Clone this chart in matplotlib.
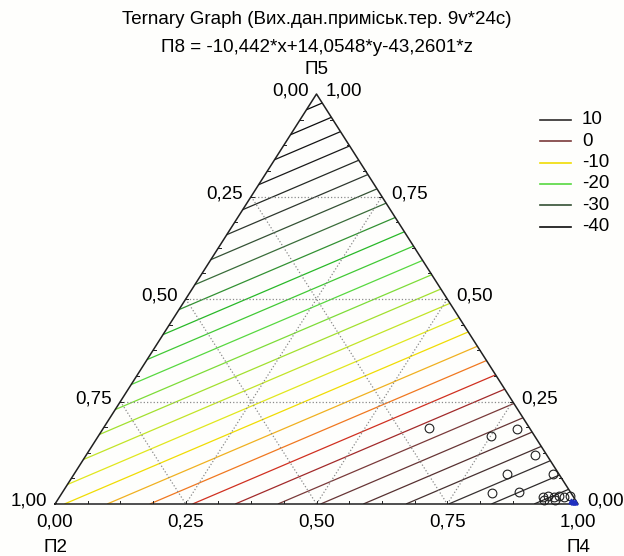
import numpy as np
import matplotlib
matplotlib.use("Agg")
import matplotlib.pyplot as plt
import matplotlib.tri as mtri
from matplotlib.colors import LinearSegmentedColormap
from matplotlib.lines import Line2D

plt.rcParams['font.family'] = ['Liberation Sans', 'DejaVu Sans']

# model from the title: П8 = a*П2 + b*П4 + c*П5
coef_p2 = -10.442
coef_p4 = 14.0548
coef_p5 = -43.2601
levels = np.arange(-44, 16, 2)
legend_levels = [10, 0, -10, -20, -30, -40]

# observed points (П4, П5 fractions)
pts_p4 = [0.622, 0.751, 0.792, 0.858, 0.828, 0.916, 0.822, 0.873,
          0.925, 0.934, 0.945, 0.955, 0.965, 0.976, 0.930, 0.951]
pts_p5 = [0.185, 0.166, 0.183, 0.120, 0.073, 0.073, 0.027, 0.029,
          0.017, 0.019, 0.017, 0.019, 0.017, 0.019, 0.010, 0.010]
blue_p4 = [0.982, 0.988, 0.993]
blue_p5 = [0.008, 0.006, 0.004]

tick_vals = [0.0, 0.25, 0.5, 0.75, 1.0]
tick_text = ['0,00', '0,25', '0,50', '0,75', '1,00']

cmap = LinearSegmentedColormap.from_list('stat', [
    (0.00, '#000000'), (0.14, '#1a1a1a'), (0.21, '#303a30'),
    (0.28, '#3a703a'), (0.345, '#28b828'), (0.41, '#55d840'),
    (0.48, '#a0e030'), (0.55, '#e0e820'), (0.585, '#f0e000'),
    (0.62, '#f0b020'), (0.655, '#f07820'), (0.69, '#d03020'),
    (0.72, '#a82828'), (0.76, '#7a3a3a'), (0.83, '#553030'),
    (0.90, '#353030'), (1.00, '#202020')])
vmin, vmax = -44, 14


def xy(p4, p5):
    p4 = np.asarray(p4, float)
    p5 = np.asarray(p5, float)
    return p4 + p5 / 2, p5


W, H = 624, 556
fig = plt.figure(figsize=(W / 100, H / 100), dpi=100, facecolor='#fefefc')
ax = fig.add_axes([55 / W, (H - 504) / H, 523 / W, 410 / H])
ax.set_xlim(0, 1)
ax.set_ylim(0, 1)
ax.axis('off')

# contours on a ternary lattice
n = 60
P4, P5 = [], []
for i in range(n + 1):
    for j in range(n + 1 - i):
        P4.append(i / n)
        P5.append(j / n)
P4 = np.array(P4)
P5 = np.array(P5)
P2 = 1 - P4 - P5
X, Y = xy(P4, P5)
Z = coef_p2 * P2 + coef_p4 * P4 + coef_p5 * P5
tri = mtri.Triangulation(X, Y)
cols = [cmap((l - vmin) / (vmax - vmin)) for l in levels]
ax.tricontour(tri, Z, levels=levels, colors=cols, linewidths=0.9)

# dotted grid
for v in [0.25, 0.5, 0.75]:
    gx, gy = xy([0, 1 - v], [v, v])          # const П5
    ax.plot(gx, gy, ls=':', color='#8a8a8a', lw=0.9)
    gx, gy = xy([v, v], [0, 1 - v])          # const П4
    ax.plot(gx, gy, ls=':', color='#8a8a8a', lw=0.9)
    gx, gy = xy([0, 1 - v], [1 - v, 0])      # const П2
    ax.plot(gx, gy, ls=':', color='#8a8a8a', lw=0.9)

# triangle frame
fx, fy = xy([0, 1, 0, 0], [0, 0, 1, 0])
ax.plot(fx, fy, color='#202020', lw=1.1, clip_on=False)

# small inward ticks
for k in range(1, 16):
    t = k / 16
    bx, by = xy([t], [0])
    ax.plot([bx[0], bx[0]], [0, 0.008], color='#202020', lw=0.7)
    lx, ly = xy([0], [t])
    ax.plot([lx[0], lx[0] + 0.005], [ly[0], ly[0]], color='#202020', lw=0.7)
    rx, ry = xy([1 - t], [t])
    ax.plot([rx[0], rx[0] - 0.005], [ry[0], ry[0]], color='#202020', lw=0.7)

# data points
px, py = xy(pts_p4, pts_p5)
ax.plot(px, py, 'o', mfc='none', mec='#202020', ms=6.3, mew=0.8, clip_on=False)
bx, by = xy(blue_p4, blue_p5)
ax.plot(bx, by, '^', color='#2030c0', ms=3.5, clip_on=False)

fs = 13.5
# bottom labels (П4)
for v, s in zip(tick_vals, tick_text):
    x0, y0 = xy([v], [0])
    ax.annotate(s, (x0[0], y0[0]), xytext=(0, -18), textcoords='offset pixels',
                ha='center', va='center', fontsize=fs, annotation_clip=False)
# left labels (П2) and right labels (П5)
for k, v in enumerate(tick_vals):
    x0, y0 = xy([0], [v])
    ax.annotate(tick_text[4 - k], (x0[0], y0[0]),
                xytext=(-8, 3), textcoords='offset pixels',
                ha='right', va='center', fontsize=fs, annotation_clip=False)
    x1, y1 = xy([1 - v], [v])
    ax.annotate(tick_text[k], (x1[0], y1[0]), xytext=(9, 3), textcoords='offset pixels',
                ha='left', va='center', fontsize=fs, annotation_clip=False)

ax.annotate('П2', (0, 0), xytext=(0, -44), textcoords='offset pixels',
            ha='center', va='center', fontsize=fs, annotation_clip=False)
ax.annotate('П4', (1, 0), xytext=(0, -44), textcoords='offset pixels',
            ha='center', va='center', fontsize=fs, annotation_clip=False)
ax.annotate('П5', (0.5, 1), xytext=(0, 25), textcoords='offset pixels',
            ha='center', va='center', fontsize=fs, annotation_clip=False)

fig.text(317 / W, 1 - 19 / H, 'Ternary Graph (Вих.дан.приміськ.тер. 9v*24c)',
         ha='center', va='center', fontsize=fs)
fig.text(317 / W, 1 - 47 / H, 'П8 = -10,442*x+14,0548*y-43,2601*z',
         ha='center', va='center', fontsize=fs)

# legend
for i, lv in enumerate(legend_levels):
    yy = 1 - (120 + 21.3 * i) / H
    fig.add_artist(Line2D([540 / W, 571 / W], [yy, yy], transform=fig.transFigure,
                          color=cmap((lv - vmin) / (vmax - vmin)), lw=1.2))
    fig.text(582 / W, yy, str(lv), ha='left', va='center', fontsize=fs)

fig.savefig('out.png', dpi=100, facecolor=fig.get_facecolor())
